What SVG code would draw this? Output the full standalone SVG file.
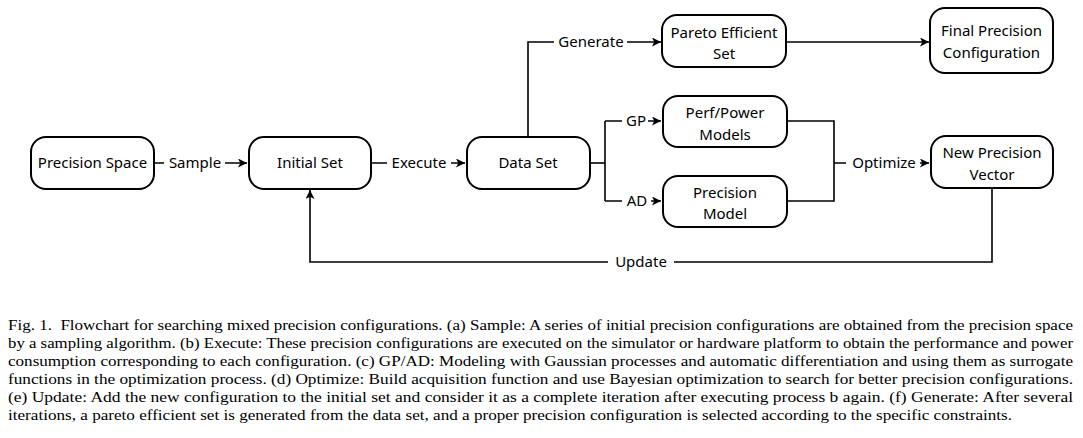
<svg xmlns="http://www.w3.org/2000/svg" width="1083" height="438" viewBox="0 0 1083 438">
<defs>
<marker id="ah" viewBox="0 0 10 10" refX="10" refY="5" markerWidth="9" markerHeight="9" markerUnits="userSpaceOnUse" orient="auto">
<path d="M0,0 L10,5 L0,10 L2.5,5 Z" fill="#000"/>
</marker>
<style>
.box{fill:#fff;stroke:#000;stroke-width:2}
.t{font-family:"Noto Sans","Open Sans",sans-serif;font-size:15px;fill:#000;text-anchor:middle}
.c{fill:none;stroke:#000;stroke-width:1.6}
.bg{fill:#fff}
.cap{font-family:"Liberation Serif","Times New Roman",serif;font-size:15.5px;fill:#000}
</style>
</defs>
<rect width="1083" height="438" fill="#fff"/>
<g id="connectors">
<path class="c" d="M154,163 H247" marker-end="url(#ah)"/>
<path class="c" d="M371,163 H465" marker-end="url(#ah)"/>
<path class="c" d="M528,137 V42 H661" marker-end="url(#ah)"/>
<path class="c" d="M786,42 H929" marker-end="url(#ah)"/>
<path class="c" d="M590,163 H605"/>
<path class="c" d="M605,121 V201"/>
<path class="c" d="M605,121 H661" marker-end="url(#ah)"/>
<path class="c" d="M605,201 H661" marker-end="url(#ah)"/>
<path class="c" d="M787,121 H834 V201 H787"/>
<path class="c" d="M834,163 H929" marker-end="url(#ah)"/>
<path class="c" d="M992,188 V262 H310 V190" marker-end="url(#ah)"/>
<rect class="bg" x="164" y="152" width="61" height="22"/>
<text class="t" x="195" y="168">Sample</text>
<rect class="bg" x="387" y="152" width="64" height="22"/>
<text class="t" x="419" y="168">Execute</text>
<rect class="bg" x="554" y="31" width="73" height="22"/>
<text class="t" x="591" y="47">Generate</text>
<rect class="bg" x="622" y="110" width="26" height="22"/>
<text class="t" x="636" y="126">GP</text>
<rect class="bg" x="622" y="190" width="29" height="22"/>
<text class="t" x="637" y="206">AD</text>
<rect class="bg" x="846" y="152" width="74" height="22"/>
<text class="t" x="884" y="168">Optimize</text>
<rect class="bg" x="608" y="251" width="66" height="22"/>
<text class="t" x="641" y="267">Update</text>
</g>
<g id="precision-space">
<rect class="box" x="31" y="137" width="123" height="52" rx="15"/>
<text class="t" x="92.5" y="168">Precision Space</text>
</g>
<g id="initial-set">
<rect class="box" x="249" y="137" width="122" height="52" rx="15"/>
<text class="t" x="310" y="168">Initial Set</text>
</g>
<g id="data-set">
<rect class="box" x="467" y="137" width="123" height="52" rx="15"/>
<text class="t" x="528" y="168">Data Set</text>
</g>
<g id="pareto">
<rect class="box" x="662" y="15" width="124" height="52" rx="15"/>
<text class="t" x="724" y="38">Pareto Efficient</text>
<text class="t" x="724" y="59">Set</text>
</g>
<g id="final">
<rect class="box" x="930" y="8" width="123" height="65" rx="15"/>
<text class="t" x="991.5" y="36">Final Precision</text>
<text class="t" x="991.5" y="58">Configuration</text>
</g>
<g id="perf-power">
<rect class="box" x="663" y="96" width="124" height="51" rx="15"/>
<text class="t" x="725" y="118">Perf/Power</text>
<text class="t" x="725" y="140">Models</text>
</g>
<g id="precision-model">
<rect class="box" x="663" y="176" width="124" height="51" rx="15"/>
<text class="t" x="725" y="198">Precision</text>
<text class="t" x="725" y="219">Model</text>
</g>
<g id="new-vector">
<rect class="box" x="931" y="136" width="122" height="52" rx="15"/>
<text class="t" x="992" y="158">New Precision</text>
<text class="t" x="992" y="180">Vector</text>
</g>
<g id="caption">
<text class="cap" x="8" y="330" textLength="1065" lengthAdjust="spacingAndGlyphs">Fig. 1.&#160; Flowchart for searching mixed precision configurations. (a) Sample: A series of initial precision configurations are obtained from the precision space</text>
<text class="cap" x="8" y="348" textLength="1065" lengthAdjust="spacingAndGlyphs">by a sampling algorithm. (b) Execute: These precision configurations are executed on the simulator or hardware platform to obtain the performance and power</text>
<text class="cap" x="8" y="366" textLength="1065" lengthAdjust="spacingAndGlyphs">consumption corresponding to each configuration. (c) GP/AD: Modeling with Gaussian processes and automatic differentiation and using them as surrogate</text>
<text class="cap" x="8" y="384" textLength="1065" lengthAdjust="spacingAndGlyphs">functions in the optimization process. (d) Optimize: Build acquisition function and use Bayesian optimization to search for better precision configurations.</text>
<text class="cap" x="8" y="402" textLength="1065" lengthAdjust="spacingAndGlyphs">(e) Update: Add the new configuration to the initial set and consider it as a complete iteration after executing process b again. (f) Generate: After several</text>
<text class="cap" x="8" y="420" textLength="1004" lengthAdjust="spacingAndGlyphs">iterations, a pareto efficient set is generated from the data set, and a proper precision configuration is selected according to the specific constraints.</text>
</g>
</svg>
